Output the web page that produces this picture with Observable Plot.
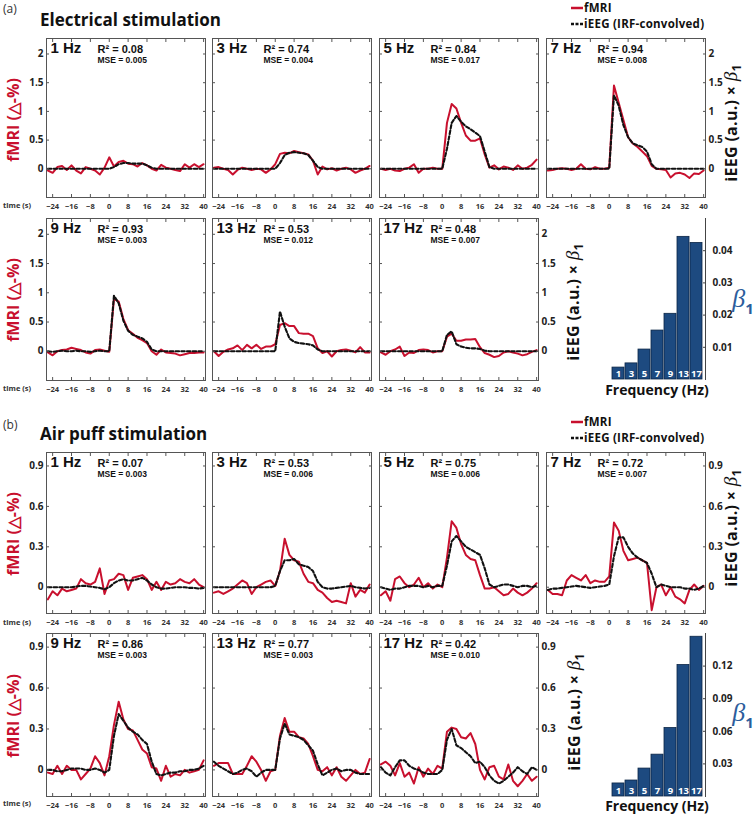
<!DOCTYPE html>
<html><head><meta charset="utf-8">
<script src="https://cdn.jsdelivr.net/npm/d3@7"></script>
<script src="https://cdn.jsdelivr.net/npm/@observablehq/plot@0.6"></script>
<style>
body{margin:0;background:#fff;}
#fig{position:relative;width:755px;height:816px;overflow:hidden;font-family:"Open Sans",sans-serif;background:#fff;}
.abs{position:absolute;white-space:nowrap;line-height:1;}
</style></head><body><div id="fig"></div>
<script>
// ---------------- DATA ----------------
const timeS = [-26,-24,-22,-20,-18,-16,-14,-12,-10,-8,-6,-4,-2,0,2,4,6,8,10,12,14,16,18,20,22,24,26,28,30,32,34,36,38,40];
const xTickValues = [-24,-16,-8,0,8,16,24,32,40];
const freqs = ["1","3","5","7","9","13","17"];
const hzLabels = ["1 Hz","3 Hz","5 Hz","7 Hz","9 Hz","13 Hz","17 Hz"];

// (a) Electrical stimulation
const elec1_fmri = [-0.03,-0.07,0.03,0.05,-0.02,0.06,-0.03,-0.08,0.03,0.0,-0.03,-0.1,0.02,0.2, 0.04,0.12,0.14,0.09,0.08,0.04,0.1,0.06,0.0, -0.03,0.07,0.02,0.0,-0.02,-0.04,0.08,0.02,0.08,0.03,0.08];
const elec1_ieeg = [0,0,0,0,0,0,0,0,0,0,0,0,0,0, 0.03,0.08,0.1,0.1,0.09,0.09,0.09,0.06,0.02, 0,0,0,0,0,0,0,0,0,0,0];
const elec3_fmri = [0.02,0.03,0.0,-0.02,-0.1,-0.02,0.02,0.0,-0.02,0.0,-0.01,-0.07,-0.01,0.08, 0.26,0.28,0.27,0.31,0.29,0.27,0.25,0.14,-0.1, 0.04,-0.01,0.01,-0.03,0.0,0.02,-0.01,-0.07,-0.03,0.0,0.05];
const elec3_ieeg = [0,0,0,0,0,0,0,0,0,0,0,0,0,0, 0.1,0.24,0.28,0.29,0.28,0.27,0.24,0.14,0.03, 0,0,0,0,0,0,0,0,0,0,0];
const elec5_fmri = [0.0,-0.02,0.0,-0.03,-0.04,0.0,0.02,0.08,-0.07,0.0,0.0,0.02,0.0,0.0, 0.8,1.13,1.05,0.8,0.58,0.49,0.49,0.53,0.25, 0.02,0.06,-0.01,0.04,0.02,-0.02,0.06,0.0,0.02,0.07,0.16];
const elec5_ieeg = [0,0,0,0,0,0,0,0,0,0,0,0,0,0, 0.35,0.8,0.92,0.82,0.74,0.69,0.63,0.57,0.3, 0.03,0,0,0,0,0,0,0,0,0,0];
const elec7_fmri = [-0.03,-0.02,0.0,0.01,0.0,-0.02,0.0,0.08,0.0,-0.01,0.03,0.0,0.0,0.02, 1.45,1.15,0.85,0.55,0.44,0.38,0.3,0.22,0.05, 0.0,-0.01,-0.02,-0.15,-0.08,-0.07,-0.1,-0.16,-0.08,-0.09,-0.03];
const elec7_ieeg = [0,0,0,0,0,0,0,0,0,0,0,0,0,0, 1.28,1.1,0.76,0.55,0.44,0.41,0.38,0.3,0.08, 0,0,0,0,0,0,0,0,0,0,0];
const elec9_fmri = [-0.02,-0.07,0.0,0.02,0.03,0.06,0.04,0.02,-0.02,-0.04,0.02,0.03,0.01,-0.01, 0.9,0.85,0.55,0.36,0.3,0.23,0.19,0.14,0.0, -0.06,0.03,-0.02,-0.03,-0.04,-0.07,-0.05,-0.03,-0.03,-0.02,-0.02];
const elec9_ieeg = [0,-0.01,0,0.01,0,0,0.01,0,0,-0.01,0,0.01,0,0, 0.95,0.82,0.52,0.35,0.28,0.25,0.22,0.16,0.03, 0,0,0,0,0,0,0,0,0,0,0];
const elec13_fmri = [0.0,-0.08,-0.01,0.03,0.05,0.1,0.02,0.11,0.05,0.11,0.04,0.08,0.08,0.12, 0.45,0.48,0.43,0.43,0.31,0.3,0.3,0.26,0.05, -0.03,0.0,-0.09,0.0,0.02,0.03,0.01,-0.02,0.07,-0.02,-0.02];
const elec13_ieeg = [0,0,0,0,0,0,0,0,0,0,0,0,0,0, 0.68,0.42,0.22,0.16,0.14,0.13,0.12,0.1,0.03, 0,0,0,0,0,0,0,0,0,0,0];
const elec17_fmri = [-0.02,-0.06,0.0,0.03,0.08,-0.08,-0.02,-0.03,0.02,0.03,0.02,-0.02,0.0,0.0, 0.25,0.3,0.18,0.18,0.2,0.2,0.21,0.07,-0.03, -0.06,-0.1,-0.08,-0.02,0.0,-0.02,-0.04,-0.07,-0.05,-0.01,0.02];
const elec17_ieeg = [0,0,0,0,0,0,0,0,0,0,0,0,0,0, 0.28,0.34,0.12,0.08,0.06,0.05,0.05,0.04,0.01, 0,0,0,0,0,0,0,0,0,0,0];
const elecR2 = ["0.08","0.74","0.84","0.94","0.93","0.53","0.48"];
const elecMSE = ["0.005","0.004","0.017","0.008","0.003","0.012","0.007"];
const elecBeta = [0.0037,0.005,0.0093,0.0152,0.0204,0.0443,0.0424];

// (b) Air puff stimulation
const air1_fmri = [-0.09,-0.03,-0.06,-0.01,-0.03,-0.02,-0.01,0.06,0.03,0.02,0.04,0.14,-0.05,0.05, 0.06,0.1,0.09,-0.02,0.07,0.08,0.09,0.06,-0.02, 0.04,-0.02,0.04,0.02,0.03,0.06,0.04,0.03,0.06,0.02,0.0];
const air1_ieeg = [0,0,0,0,0,0,0.005,0.01,0.01,0.005,0,-0.005,-0.015,0, 0.03,0.05,0.06,0.05,0.05,0.06,0.07,0.05,0.02, 0,-0.01,-0.01,-0.005,0,0,0,-0.005,-0.005,-0.01,-0.005];
const air3_fmri = [-0.04,-0.03,-0.05,-0.03,-0.01,0.02,0.05,0.03,-0.05,0.0,0.02,0.04,0.05,0.01, 0.12,0.36,0.24,0.2,0.19,0.1,0.04,0.03,-0.02, -0.04,-0.08,-0.11,-0.1,-0.11,-0.12,0.03,-0.07,-0.02,-0.04,0.02];
const air3_ieeg = [0,0,0,0,0,0,0,0,0,0,0,0,0,0.01, 0.12,0.2,0.2,0.21,0.17,0.16,0.15,0.12,0.04, 0,-0.01,-0.01,-0.005,0,0.005,0.01,0,-0.005,-0.01,-0.005];
const air5_fmri = [-0.06,-0.03,-0.1,0.06,0.08,0.03,0.0,0.02,0.07,0.0,0.03,-0.01,0.02,0.0, 0.22,0.49,0.44,0.32,0.24,0.21,0.2,0.09,-0.01, -0.01,0.0,-0.03,-0.06,-0.05,-0.01,-0.04,-0.06,-0.04,-0.01,0.03];
const air5_ieeg = [0,-0.01,-0.02,-0.01,-0.01,0,0.01,0.01,0.01,0,0.01,0,0.01,0.01, 0.16,0.34,0.38,0.34,0.3,0.28,0.26,0.24,0.14, 0.02,0,0.01,0.02,0.02,0.01,0,0.01,0.01,0,0.01];
const air7_fmri = [-0.02,-0.05,-0.05,-0.06,0.05,0.09,0.07,0.05,0.09,0.03,0.05,0.04,0.04,0.08, 0.48,0.42,0.27,0.2,0.21,0.22,0.2,0.18,-0.17, 0.0,0.02,-0.06,0.0,-0.07,-0.09,-0.12,-0.02,0.02,-0.02,0.01];
const air7_ieeg = [-0.02,-0.01,-0.01,-0.005,0,0.005,0.01,0.005,0,-0.005,0,0.005,0.01,0.02, 0.23,0.37,0.37,0.3,0.25,0.22,0.2,0.18,0.1, 0,0.02,0.01,0,0,0,-0.01,-0.01,-0.02,-0.01,0.01];
const air9_fmri = [-0.02,-0.03,0.03,-0.03,0.03,0.0,0.0,-0.07,-0.03,0.01,0.1,0.05,-0.04,0.1, 0.33,0.5,0.37,0.3,0.29,0.22,0.15,0.12,0.02, 0.01,-0.08,0.03,-0.05,-0.03,-0.04,0.0,-0.02,-0.01,0.0,0.07];
const air9_ieeg = [0,0,-0.01,-0.01,0,0.01,0.01,0.01,0,0,0.01,0,-0.02,0, 0.25,0.41,0.36,0.31,0.28,0.26,0.22,0.19,0.06, -0.03,-0.04,-0.03,-0.02,-0.02,-0.01,-0.01,0,0,0.01,0.03];
const air13_fmri = [0.03,0.05,0.05,0.05,-0.03,-0.03,-0.03,0.03,0.1,0.06,0.0,-0.08,-0.01,0.0, 0.25,0.38,0.28,0.28,0.24,0.23,0.19,0.1,0.0, -0.01,0.02,-0.04,0.02,-0.05,-0.08,-0.04,0.0,-0.03,-0.02,0.08];
const air13_ieeg = [0.06,0.03,0.01,-0.01,-0.03,-0.02,0.0,0.01,-0.01,-0.05,-0.02,0.0,0.0,0.0, 0.23,0.34,0.26,0.25,0.24,0.22,0.18,0.14,0.04, -0.04,-0.02,0.0,0.01,-0.01,0.0,0.0,-0.02,-0.03,-0.03,-0.03];
const air17_fmri = [0.04,0.06,0.03,-0.04,0.05,-0.05,-0.02,-0.1,0.02,-0.05,0.01,-0.03,0.03,0.01, 0.28,0.31,0.3,0.24,0.23,0.27,0.19,0.0,-0.07, 0.02,0.03,-0.05,-0.07,0.04,-0.08,-0.12,-0.08,-0.03,-0.08,-0.05];
const air17_ieeg = [0.02,-0.02,-0.04,0.02,0.07,0.07,0.03,0.01,0.0,-0.02,-0.03,-0.03,-0.03,0.0, 0.22,0.3,0.18,0.16,0.13,0.1,0.05,0.06,0.02, -0.04,-0.08,-0.1,-0.08,-0.05,-0.02,0.02,-0.01,-0.03,0.02,0.0];
const airR2 = ["0.07","0.53","0.75","0.72","0.86","0.77","0.42"];
const airMSE = ["0.003","0.006","0.006","0.007","0.003","0.003","0.010"];
const airBeta = [0.012,0.0147,0.0257,0.0385,0.063,0.121,0.147];

const elecYTicks = [0,0.5,1,1.5,2];
const airYTicks = [0,0.3,0.6,0.9];
const elecBetaTicks = [0.01,0.02,0.03,0.04];
const airBetaTicks = [0.03,0.06,0.09,0.12];

// ---------------- LAYOUT ----------------
const fig = document.getElementById("fig");
const RED = "#c8102e";
const NAVY = "#1d4a80";
const BLUE = "#2c5d9c";
const FW = 159;
const colLeft = [46, 212, 379, 546];
const ML = 32, MR = 32, MT = 4, MB = 20;
const fmt = d3.format("~g");
const baseStyle = {background: "transparent", fontFamily: "'Open Sans', sans-serif", overflow: "visible", maxWidth: "none"};

function place(el, left, top) {
  el.style.position = "absolute";
  el.style.left = left + "px";
  el.style.top = top + "px";
  fig.appendChild(el);
}

function label(html, x, y, css, mode) {
  const d = document.createElement("div");
  d.className = "abs";
  d.innerHTML = html;
  d.style.left = x + "px";
  d.style.top = y + "px";
  if (mode === "rot") d.style.transform = "translate(-50%,-50%) rotate(-90deg)";
  else if (mode === "center") d.style.transform = "translate(-50%,-50%)";
  else d.style.transform = "translate(0,-50%)";
  Object.assign(d.style, css);
  fig.appendChild(d);
}

function linePanel(col, top, h, fmri, ieeg, yDomain, yTicks, hz, r2, mse, showLeft, showRight) {
  const data = timeS.map((t, i) => ({t, f: fmri[i], e: ieeg[i]}));
  const svg = Plot.plot({
    width: FW + ML + MR, height: h + MT + MB,
    marginLeft: ML, marginRight: MR, marginTop: MT, marginBottom: MB,
    style: baseStyle,
    x: {domain: [-26.6, 40.8]},
    y: {domain: yDomain},
    marks: [
      Plot.lineY(data, {x: "t", y: "f", stroke: RED, strokeWidth: 2, clip: true}),
      Plot.lineY(data, {x: "t", y: "e", stroke: "#111", strokeWidth: 2.1, strokeDasharray: "3.5,2.2", clip: true}),
      Plot.frame({stroke: "#555", strokeWidth: 1}),
      Plot.axisX({anchor: "bottom", ticks: xTickValues, tickSize: -3, tickPadding: 9, fontSize: 7.5, fontWeight: "bold", fill: "#333", stroke: "#555", label: null}),
      Plot.axisX({anchor: "top", ticks: xTickValues, tickSize: -3, fill: "none", stroke: "#555", label: null}),
      Plot.axisY({anchor: "left", ticks: yTicks, tickFormat: fmt, tickSize: -3, tickPadding: 6, fontSize: 10, fontWeight: "bold", fill: showLeft ? "#222" : "none", stroke: "#555", label: null}),
      Plot.axisY({anchor: "right", ticks: yTicks, tickFormat: fmt, tickSize: -3, tickPadding: 6, fontSize: 10, fontWeight: "bold", fill: showRight ? "#222" : "none", stroke: "#555", label: null}),
      Plot.text([hz], {text: d => d, frameAnchor: "top-left", dx: 4, dy: 4, lineAnchor: "top", textAnchor: "start", fontSize: 15, fontWeight: "bold", fontFamily: "'Liberation Sans', Arial, sans-serif", fill: "#111"}),
      Plot.text(["R\u00B2 = " + r2], {text: d => d, frameAnchor: "top-left", dx: 51, dy: 7, lineAnchor: "top", textAnchor: "start", fontSize: 11, fontWeight: "bold", fontFamily: "'Liberation Sans', Arial, sans-serif", fill: "#111"}),
      Plot.text(["MSE = " + mse], {text: d => d, frameAnchor: "top-left", dx: 51, dy: 18.5, lineAnchor: "top", textAnchor: "start", fontSize: 8.5, fontWeight: "bold", fontFamily: "'Liberation Sans', Arial, sans-serif", fill: "#111"})
    ]
  });
  place(svg, colLeft[col] - ML, top - MT);
}

function barPanel(top, h, vals, yDomain, yTicks) {
  const data = freqs.map((f, i) => ({f, v: vals[i]}));
  const BL = 4, BR = 40, BT = 4, BB = 4;
  const svg = Plot.plot({
    width: 96 + BL + BR, height: h + BT + BB,
    marginLeft: BL, marginRight: BR, marginTop: BT, marginBottom: BB,
    style: baseStyle,
    x: {domain: freqs, paddingInner: 0.08, paddingOuter: 0.03, axis: null},
    y: {domain: yDomain},
    marks: [
      Plot.barY(data, {x: "f", y: "v", fill: NAVY, stroke: "#0b2545", strokeWidth: 0.8}),
      Plot.text(data, {x: "f", text: "f", frameAnchor: "bottom", dy: -3, fill: "#fff", fontSize: 9.5, fontWeight: "bold"}),
      Plot.frame({anchor: "right", stroke: "#444"}),
      Plot.axisY({anchor: "right", ticks: yTicks, tickFormat: fmt, tickSize: -3, tickPadding: 10, fontSize: 10, fontWeight: "bold", fill: "#222", stroke: "#444", label: null})
    ]
  });
  place(svg, 609 - BL, top - BT);
}

// ---------------- PANELS ----------------
const elecF = [elec1_fmri, elec3_fmri, elec5_fmri, elec7_fmri, elec9_fmri, elec13_fmri, elec17_fmri];
const elecE = [elec1_ieeg, elec3_ieeg, elec5_ieeg, elec7_ieeg, elec9_ieeg, elec13_ieeg, elec17_ieeg];
const airF = [air1_fmri, air3_fmri, air5_fmri, air7_fmri, air9_fmri, air13_fmri, air17_fmri];
const airE = [air1_ieeg, air3_ieeg, air5_ieeg, air7_ieeg, air9_ieeg, air13_ieeg, air17_ieeg];

const rowsA = [{top: 38, h: 159}, {top: 218, h: 162}];
const rowsB = [{top: 452, h: 161}, {top: 633, h: 163}];
const elecDomain = [-0.5, 2.27];
const airDomain = [-0.195, 1.0];

for (let i = 0; i < 7; i++) {
  const r = i < 4 ? 0 : 1, c = i < 4 ? i : i - 4;
  const lastInRow = (r === 0 && c === 3) || (r === 1 && c === 2);
  linePanel(c, rowsA[r].top, rowsA[r].h, elecF[i], elecE[i], elecDomain, elecYTicks, hzLabels[i], elecR2[i], elecMSE[i], c === 0, lastInRow);
  linePanel(c, rowsB[r].top, rowsB[r].h, airF[i], airE[i], airDomain, airYTicks, hzLabels[i], airR2[i], airMSE[i], c === 0, lastInRow);
}
barPanel(218, 161, elecBeta, [0, 0.05], elecBetaTicks);
barPanel(633, 163, airBeta, [0, 0.15], airBetaTicks);

// ---------------- TEXT ----------------
const tick = {fontSize: "7.5px", fontWeight: "bold", color: "#333"};
[206, 389, 623, 804].forEach(y => label("time (s)", 3, y, tick));

const leftLab = {fontSize: "16px", fontWeight: "bold", color: RED};
[120, 300, 534, 716].forEach(y => label("fMRI (\u25B3-%)", 13, y, leftLab, "rot"));

const rightLab = {fontSize: "16px", fontWeight: "bold", color: "#111", letterSpacing: "0.3px"};
const rightHtml = "iEEG (a.u.) \u00D7 <i style=\"font-family:'Liberation Serif',serif;font-size:19px;font-weight:normal\">\u03B2</i><sub style=\"font-size:12px\">1</sub>";
[[732, 123], [574, 302], [732, 528], [575, 712]].forEach(([x, y]) => label(rightHtml, x, y, rightLab, "rot"));

const betaHtml = "<i style=\"font-family:'Liberation Serif',serif\">\u03B2</i><sub style=\"font-size:15px;font-weight:bold;font-family:'Open Sans',sans-serif\">1</sub>";
[300, 714].forEach(y => label(betaHtml, 743, y, {fontSize: "26px", color: BLUE}, "center"));

const freqLab = {fontSize: "14px", fontWeight: "bold", color: "#111"};
label("Frequency (Hz)", 657, 390, freqLab, "center");
label("Frequency (Hz)", 657, 806, freqLab, "center");

label("(a)", 3, 9, {fontSize: "12px", color: "#333"});
label("Electrical stimulation", 40, 19, {fontSize: "17px", fontWeight: "bold", color: "#111"});
label("(b)", 3, 425, {fontSize: "12px", color: "#333"});
label("Air puff stimulation", 40, 433, {fontSize: "17px", fontWeight: "bold", color: "#111"});

function legend(y1, y2) {
  const sw1 = "<svg width='12' height='4' style='display:block'><line x1='0' y1='2' x2='12' y2='2' stroke='" + RED + "' stroke-width='2.5'/></svg>";
  const sw2 = "<svg width='12' height='4' style='display:block'><line x1='0' y1='2' x2='12' y2='2' stroke='#111' stroke-width='2.5' stroke-dasharray='3,1.5'/></svg>";
  label(sw1, 571, y1, {});
  label(sw2, 571, y2, {});
  const lt = {fontSize: "11.5px", fontWeight: "bold", color: "#111", letterSpacing: "0.25px"};
  label("fMRI", 584, y1, lt);
  label("iEEG (IRF-convolved)", 584, y2, lt);
}
legend(8, 24);
legend(422, 438);
</script></body></html>
